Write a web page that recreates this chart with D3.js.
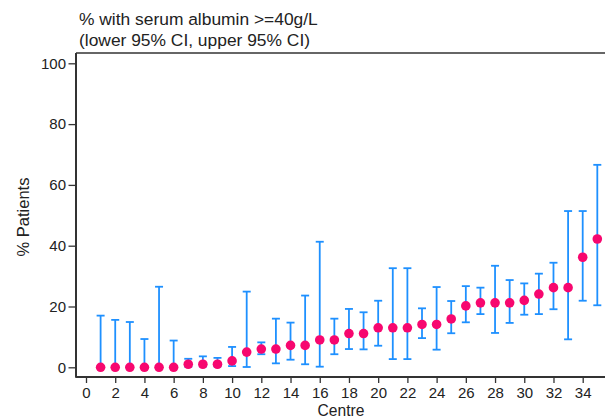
<!DOCTYPE html>
<html>
<head>
<meta charset="utf-8">
<script src="https://cdn.jsdelivr.net/npm/d3@7"></script>
<style>
  body { margin: 0; background: #fff; }
  text { font-family: "Liberation Sans", Arial, sans-serif; fill: #222; }
</style>
</head>
<body>
<svg id="chart"></svg>
<script>
// values
const centres = d3.range(1, 36);
const pct   = [0, 0, 0, 0, 0, 0, 1, 1, 1, 2.1, 5, 6, 6, 7.2, 7.2, 9, 9, 11.1, 11.1, 13, 13, 13, 14.1, 14.1, 15.9, 20.2, 21.2, 21.2, 21.2, 22, 24.1, 26.2, 26.2, 36.2, 42.2];
const lower = [0, 0, 0, 0, 0, 0, 0.2, 0.3, 0.3, 0.4, 0.1, 4.3, 1.3, 2.5, 1, 0.2, 4.3, 6, 5.9, 7.1, 2.7, 2.7, 9.6, 5.8, 11.2, 14.8, 17.5, 11.3, 14.6, 17.3, 17.5, 19.1, 9.2, 21.9, 20.4];
const upper = [17, 15.6, 14.9, 9.3, 26.5, 8.8, 2.8, 3.6, 3.1, 6.7, 24.9, 8.2, 16, 14.7, 23.6, 41.3, 16, 19.2, 18.1, 21.9, 32.6, 32.6, 19.4, 26.4, 21.8, 26.7, 26.2, 33.4, 28.7, 27.6, 30.8, 34.4, 51.4, 51.4, 66.6];
const yTicks = [0, 20, 40, 60, 80, 100];
const xTicks = d3.range(0, 35, 2);
const titleLines = ["% with serum albumin >=40g/L", "(lower 95% CI, upper 95% CI)"];

const data = centres.map((c, i) => ({ centre: c, pct: pct[i], lo: lower[i], hi: upper[i] }));

const svgWidth = 605, svgHeight = 419;
const frame = { left: 76, top: 53, right: 605, bottom: 377 };

const svg = d3.select("#chart").attr("width", svgWidth).attr("height", svgHeight);

const x = d3.scaleLinear().domain([0, 34]).range([86, 582.7]);
const y = d3.scaleLinear().domain([0, 100]).range([367.3, 63.3]);

const axisColor = "#333";
const barColor = "#1e90ff";
const dotColor = "#f7076f";

// frame lines
svg.append("line")
  .attr("x1", frame.left).attr("x2", frame.right)
  .attr("y1", frame.top).attr("y2", frame.top)
  .attr("stroke", axisColor).attr("stroke-width", 1.5);

// Axes
const gx = svg.append("g").attr("transform", `translate(0,${frame.bottom})`)
  .call(d3.axisBottom(x).tickValues(xTicks).tickSize(6).tickPadding(4).tickSizeOuter(0));
const gy = svg.append("g").attr("transform", `translate(${frame.left},0)`)
  .call(d3.axisLeft(y).tickValues(yTicks).tickSize(7.5).tickPadding(2.5).tickSizeOuter(0));

[gx, gy].forEach(g => {
  g.select(".domain").remove();
  g.selectAll(".tick line").attr("stroke", axisColor).attr("stroke-width", 1.3);
  g.selectAll(".tick text").attr("font-size", "15px").attr("fill", "#222")
    .style("font-family", "'Liberation Sans', Arial, sans-serif");
});

svg.append("line")
  .attr("x1", frame.left).attr("x2", frame.left)
  .attr("y1", frame.top).attr("y2", frame.bottom + 0.8)
  .attr("stroke", axisColor).attr("stroke-width", 2);
svg.append("line")
  .attr("x1", frame.left).attr("x2", frame.right)
  .attr("y1", frame.bottom).attr("y2", frame.bottom)
  .attr("stroke", axisColor).attr("stroke-width", 2);

// error bars
const bars = svg.append("g");
data.forEach(d => {
  const cx = x(d.centre);
  bars.append("line").attr("x1", cx).attr("x2", cx)
    .attr("y1", y(d.lo)).attr("y2", y(d.hi))
    .attr("stroke", barColor).attr("stroke-width", 1.8);
  [d.lo, d.hi].forEach(v => {
    bars.append("line").attr("x1", cx - 4).attr("x2", cx + 4)
      .attr("y1", y(v)).attr("y2", y(v))
      .attr("stroke", barColor).attr("stroke-width", 1.8);
  });
});

// points
svg.append("g").selectAll("circle").data(data).join("circle")
  .attr("cx", d => x(d.centre))
  .attr("cy", d => y(d.pct))
  .attr("r", 4.8)
  .attr("fill", dotColor);

// Labels
svg.append("g").selectAll("text").data(titleLines).join("text")
  .attr("x", 79).attr("y", (d, i) => 25 + i * 20.5)
  .attr("font-size", "17.4px")
  .text(d => d);

svg.append("text")
  .attr("x", 341).attr("y", 416)
  .attr("text-anchor", "middle").attr("font-size", "15.6px")
  .text("Centre");

svg.append("text")
  .attr("transform", "translate(29,217) rotate(-90)")
  .attr("text-anchor", "middle").attr("font-size", "16.5px")
  .text("% Patients");
</script>
</body>
</html>
